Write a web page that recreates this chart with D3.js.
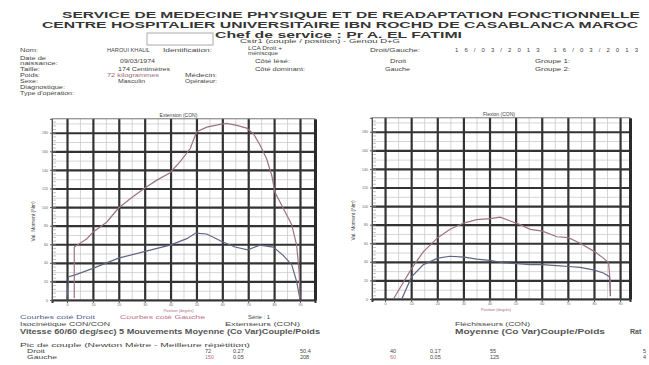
<!DOCTYPE html>
<html>
<head>
<meta charset="utf-8">
<script src="https://cdn.jsdelivr.net/npm/d3@7"></script>
<style>
  body { margin: 0; background: #fff; }
  svg { display: block; }
  text { font-family: "Liberation Sans", Arial, sans-serif; fill: #444; }
</style>
</head>
<body>
<svg id="chart" width="649" height="365"></svg>
<script>
// ---- data ----
const xTicks = [0, 10, 20, 30, 40, 50, 60, 70, 80, 90];
const yTicks = [0, 20, 40, 60, 80, 100, 120, 140, 160, 180];
const xMinor = [5, 15, 25, 35, 45, 55, 65, 75, 85];
const yMinor = [10, 30, 50, 70, 90, 110, 130, 150, 170, 190];

// [angle (deg), torque (N.m)]
const extDroit = [[0, 1], [0.6, 25], [3.2, 27], [10, 34], [19.9, 45], [29.8, 52], [39.8, 59], [46.3, 66],
  [49.7, 72], [54, 71], [59.8, 63], [64.9, 57], [69.8, 54], [74.5, 59], [79.7, 57], [83.5, 48],
  [86.8, 38], [88.7, 20], [90, 1]];
const extGauche = [[2.8, 2], [2.8, 57], [7.7, 66], [10, 73], [15.4, 84], [19.9, 99], [24.4, 109],
  [29.8, 120], [34.7, 129], [39.8, 137], [43.7, 149], [47.6, 163], [50.1, 181], [54, 186], [59.1, 189],
  [61.7, 190], [65.6, 188], [69.4, 185], [72, 179], [74.5, 167], [77.1, 152], [79.1, 134], [80.3, 116],
  [83.5, 99], [86.8, 81], [88.7, 59], [89.7, 30], [90, 2]];
const flexDroit = [[6.4, 0], [10.2, 24], [14.7, 37], [20.2, 44], [24.9, 46], [30.4, 45], [35.1, 43],
  [40.2, 41.5], [45.3, 39], [50.4, 38], [55.6, 37], [60.3, 37], [65.8, 36], [70.2, 35], [74.7, 34],
  [80.2, 31], [83.6, 28], [85.9, 24], [86.2, 12], [86.3, 3]];
const flexGauche = [[3.2, 0], [6.4, 15], [10.2, 33], [14.7, 51], [20.2, 66], [24.9, 75], [30.4, 82],
  [35.1, 85.5], [40.2, 86.6], [44.1, 88], [47.9, 84], [51.7, 80], [55.6, 75], [60.3, 73], [65.8, 67],
  [70.2, 66], [74.7, 60], [80.2, 51], [83.6, 44], [85.6, 39], [86.2, 19], [86.3, 4]];

const tableColumns = [205, 233, 300, 390, 430, 490, 643];
const tableDroit = ["72", "0.27", "50.4", "40", "0.17", "55", "5"];
const tableGauche = ["150", "0.05", "208", "60", "0.05", "125", "4"];

const colorDroit = "#5f6684";
const colorGauche = "#9c7382";

const svg = d3.select("#chart");

function txt(x, y, s, size, opts) {
  opts = opts || {};
  const t = svg.append("text")
    .attr("x", x).attr("y", y)
    .attr("font-size", size)
    .text(s);
  if (opts.bold) t.attr("font-weight", "bold");
  if (opts.fill) t.style("fill", opts.fill);
  if (opts.anchor) t.attr("text-anchor", opts.anchor);
  if (opts.len) t.attr("textLength", opts.len).attr("lengthAdjust", opts.adjust || "spacingAndGlyphs");
  return t;
}

// ---- header ----
txt(62, 18, "SERVICE DE MEDECINE PHYSIQUE ET DE READAPTATION FONCTIONNELLE", 8.9, { bold: true, fill: "#363636", len: 578 });
txt(42, 28, "CENTRE HOSPITALIER UNIVERSITAIRE IBN ROCHD DE CASABLANCA MAROC", 8.9, { bold: true, fill: "#363636", len: 596 });
txt(215, 37.5, "Chef de service : Pr A. EL FATIMI", 8.9, { bold: true, fill: "#363636", len: 247 });
svg.append("rect").attr("x", 147).attr("y", 33).attr("width", 66).attr("height", 12)
  .attr("fill", "none").attr("stroke", "#aaa").attr("stroke-width", 1);
txt(240, 43.2, "Cstr1 (couple / position) - Genou D+G", 4.6, { len: 160 });

// ---- patient block ----
const fs = 5.5;
txt(20, 52, "Nom:", fs, { len: 18 });
txt(107, 52, "HAROUI KHALIL", fs, { len: 43 });
txt(163, 52, "Identification:", fs, { len: 49 });
txt(248, 49.8, "LCA Droit +", fs, { len: 34 });
txt(248, 55.2, "méniscque", fs, { len: 30 });
txt(370, 52, "Droit/Gauche:", fs, { len: 50 });
txt(455, 52, "16/03/2013 16/03/2013", 6, { len: 183, adjust: "spacing" });

txt(20, 59.5, "Date de", fs, { len: 26 });
txt(20, 65, "naissance:", fs, { len: 38 });
txt(120, 63, "09/03/1974", fs, { len: 35 });
txt(255, 63, "Côté lésé:", fs, { len: 35 });
txt(390, 63, "Droit", fs, { len: 16 });
txt(535, 63, "Groupe 1:", fs, { len: 35 });

txt(20, 71, "Taille:", fs, { len: 20 });
txt(118, 71, "174 Centimètres", fs, { len: 52 });
txt(255, 71, "Côté dominant:", fs, { len: 50 });
txt(385, 71, "Gauche", fs, { len: 25 });
txt(535, 71, "Groupe 2:", fs, { len: 35 });

txt(20, 77, "Poids:", fs, { len: 20 });
txt(107, 76.5, "72 kilogrammes", fs, { fill: "#a06a78", len: 52 });
txt(185, 76.5, "Médecin:", fs, { len: 32 });
txt(20, 83, "Sexe:", fs, { len: 18 });
txt(118, 83, "Masculin", fs, { len: 27 });
txt(185, 83, "Opérateur:", fs, { len: 32 });
txt(20, 89, "Diagnostique:", fs, { len: 45 });
txt(20, 95, "Type d'opération:", fs, { len: 54 });

// ---- charts ----
function drawPanel(p) {
  const x = d3.scaleLinear().domain(p.xDomain).range(p.xRange);
  const y = d3.scaleLinear().domain(p.yDomain).range(p.yRange);
  const g = svg.append("g");
  const left = p.xRange[0], right = p.xRange[1];
  const bottom = p.yRange[0], top = p.yRange[1];

  // minor grid
  const mgx = g.append("g").attr("transform", `translate(0,${top})`)
    .call(d3.axisBottom(x).tickValues(xMinor).tickSize(bottom - top).tickFormat(""));
  const mgy = g.append("g").attr("transform", `translate(${left},0)`)
    .call(d3.axisRight(y).tickValues(yMinor).tickSize(right - left).tickFormat(""));
  [mgx, mgy].forEach(a => {
    a.select(".domain").remove();
    a.selectAll("line").attr("stroke", "#c4c4c4").attr("stroke-width", 0.7);
  });

  // major grid
  const gx = g.append("g").attr("transform", `translate(0,${top})`)
    .call(d3.axisBottom(x).tickValues(xTicks).tickSize(bottom - top).tickFormat(""));
  const gy = g.append("g").attr("transform", `translate(${left},0)`)
    .call(d3.axisRight(y).tickValues(yTicks.slice(1)).tickSize(right - left).tickFormat(""));
  [gx, gy].forEach(a => {
    a.select(".domain").remove();
    a.selectAll("line").attr("stroke", "#333").attr("stroke-width", 2.2);
  });

  // ruler ticks along the left edge
  const rul = g.append("g").attr("transform", `translate(${left},0)`)
    .call(d3.axisRight(y).tickValues(d3.range(0, p.yDomain[1], 4)).tickSize(4).tickFormat(""));
  rul.select(".domain").remove();
  rul.selectAll("line").attr("stroke", "#999").attr("stroke-width", 0.6);

  // frame
  g.append("rect").attr("x", left).attr("y", top)
    .attr("width", right - left).attr("height", bottom - top)
    .attr("fill", "none").attr("stroke", "#666").attr("stroke-width", 0.9);
  const rb = g.append("g").attr("transform", `translate(${right},0)`)
    .call(d3.axisRight(y).tickValues([]).tickSizeOuter(0));
  rb.select(".domain").attr("stroke", "#2a2a2a").attr("stroke-width", 3);

  // axes with labels
  const ax = g.append("g").attr("transform", `translate(0,${bottom})`)
    .call(d3.axisBottom(x).tickValues(xTicks).tickSize(3).tickPadding(0.5));
  ax.select(".domain").attr("stroke", "#333").attr("stroke-width", 2);
  ax.selectAll("line").attr("stroke", "#555");
  ax.selectAll("text").attr("font-size", 3.6).style("fill", "#666");

  const ay = g.append("g").attr("transform", `translate(${left},0)`)
    .call(d3.axisLeft(y).tickValues(yTicks).tickSize(2).tickPadding(2));
  ay.select(".domain").attr("stroke", "#555");
  ay.selectAll("line").attr("stroke", "#555");
  ay.selectAll("text").attr("font-size", 3.6).style("fill", "#666");

  g.append("text").attr("x", (left + right) / 2 + p.titleDx).attr("y", top - 2)
    .attr("text-anchor", "middle").attr("font-size", 5).text(p.title);
  g.append("text").attr("x", (left + right) / 2 - 5).attr("y", bottom + 11.5)
    .attr("text-anchor", "middle").attr("font-size", 4).style("fill", "#a07080")
    .text("Position (degrés)");
  g.append("text")
    .attr("transform", `translate(${p.yLabelX},${(bottom + top) / 2 + 12}) rotate(-90)`)
    .attr("text-anchor", "middle").attr("font-size", 5).text("Val. Moment (Nm)");

  const line = d3.line().x(d => x(d[0])).y(d => y(d[1]));
  g.append("path").datum(p.droit).attr("d", line)
    .attr("fill", "none").attr("stroke", colorDroit).attr("stroke-width", 1.2);
  g.append("path").datum(p.gauche).attr("d", line)
    .attr("fill", "none").attr("stroke", colorGauche).attr("stroke-width", 1.2);
}

drawPanel({
  xDomain: [-5.8, 95.8], xRange: [52, 315],
  yDomain: [0, 195], yRange: [300, 118.8],
  title: "Extension (CON)", titleDx: -5, yLabelX: 35,
  droit: extDroit, gauche: extGauche
});
drawPanel({
  xDomain: [-5, 93.8], xRange: [372, 630],
  yDomain: [0, 195], yRange: [299, 117.8],
  title: "Flexion (CON)", titleDx: -2, yLabelX: 355,
  droit: flexDroit, gauche: flexGauche
});

// ---- legend & results ----
txt(20, 319, "Courbes coté Droit", 6, { fill: "#4f5f8f", len: 75 });
txt(120, 319, "Courbes coté Gauche", 6, { fill: "#c07088", len: 85 });
txt(248, 319, "Série : 1", 6, { len: 22 });
txt(20, 325.5, "Isocinétique CON/CON", 5.5, { len: 90 });
txt(225, 325.5, "Extenseurs (CON)", 5.5, { len: 75 });
txt(455, 325.5, "Fléchisseurs (CON)", 5.5, { len: 75 });
txt(20, 334, "Vitesse 60/60 deg/sec) 5 Mouvements Moyenne (Co Var)Couple/Poids", 7, { bold: true, fill: "#555", len: 300 });
txt(455, 334, "Moyenne (Co Var)Couple/Poids", 7, { bold: true, fill: "#555", len: 150 });
txt(630, 334, "Rat", 7, { bold: true, fill: "#555" });
txt(20, 346.5, "Pic de couple (Newton Mètre - Meilleure répétition)", 5.5, { len: 230 });
txt(27, 352.5, "Droit", 5.5, { len: 18 });
txt(27, 359, "Gauche", 5.5, { len: 30 });

tableDroit.forEach((v, i) => txt(tableColumns[i], 352.5, v, 5.5));
tableGauche.forEach((v, i) => txt(tableColumns[i], 359, v, 5.5, { fill: (i === 0 || i === 3) ? "#c07080" : "#444" }));
</script>
</body>
</html>
